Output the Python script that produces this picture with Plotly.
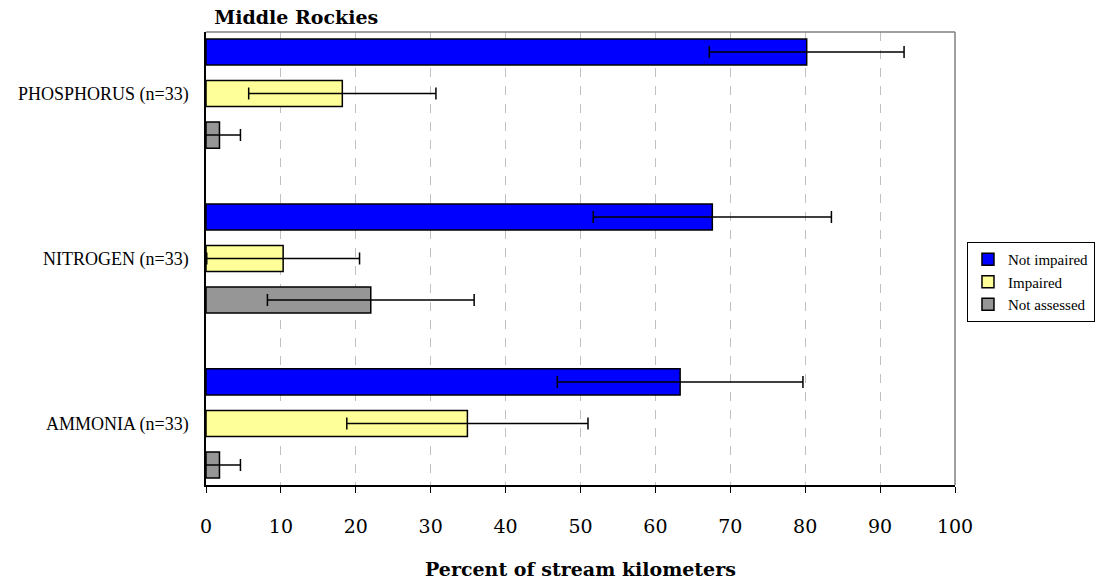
import plotly.graph_objects as go

# Nutrient condition of stream kilometers, Middle Rockies
categories = ["PHOSPHORUS (n=33)", "NITROGEN (n=33)", "AMMONIA (n=33)"]
series_names = ["Not impaired", "Impaired", "Not assessed"]

not_impaired = [80.2, 67.6, 63.3]
not_impaired_err = [13.0, 15.9, 16.4]

impaired = [18.2, 10.3, 34.9]
impaired_err = [12.5, 10.2, 16.1]

not_assessed = [1.8, 22.0, 1.8]
not_assessed_err = [2.8, 13.8, 2.8]

x_ticks = [0, 10, 20, 30, 40, 50, 60, 70, 80, 90, 100]

colors = ["#0000FF", "#FFFF99", "#969696"]
values = [not_impaired, impaired, not_assessed]
errors = [not_impaired_err, impaired_err, not_assessed_err]

serif = "Liberation Serif"
wide_serif = "DejaVu Serif"

fig = go.Figure()
for name, vals, errs, col in zip(series_names, values, errors, colors):
    fig.add_trace(go.Bar(
        y=categories,
        x=vals,
        name=name,
        orientation="h",
        marker=dict(color=col, line=dict(color="black", width=1.5)),
        error_x=dict(type="data", array=errs, symmetric=True,
                     color="black", thickness=1.5, width=6),
    ))

fig.update_layout(
    width=1112,
    height=581,
    margin=dict(l=206, r=157, t=32, b=96),
    paper_bgcolor="white",
    plot_bgcolor="white",
    barmode="group",
    bargap=0.245,
    bargroupgap=0.37,
    font=dict(family=serif, color="black"),
    title=dict(
        text="<b>Middle Rockies</b>",
        font=dict(family=wide_serif, size=19, color="black"),
        xref="paper", x=0.011, xanchor="left",
        yref="container", y=1 - 17 / 581, yanchor="middle",
    ),
    legend=dict(
        x=1.016, xanchor="left",
        y=0.448, yanchor="middle",
        bordercolor="black", borderwidth=1,
        bgcolor="white",
        font=dict(family=serif, size=15, color="black"),
        tracegroupgap=0,
        itemwidth=30,
    ),
    showlegend=True,
)

fig.update_xaxes(
    range=[0, 100],
    tickvals=x_ticks,
    ticktext=[str(t) for t in x_ticks],
    ticks="outside", ticklen=6, tickcolor="black", tickwidth=1,
    tickfont=dict(family=wide_serif, size=19, color="black"),
    ticklabelstandoff=17,
    showline=True, linecolor="black", linewidth=1.5,
    showgrid=True, gridcolor="#c0c0c0", griddash="dash", gridwidth=1,
    zeroline=False,
    automargin=False,
    title=dict(
        text="<b>Percent of stream kilometers</b>",
        font=dict(family=wide_serif, size=19, color="black"),
        standoff=27,
    ),
)

fig.update_yaxes(
    type="category",
    categoryorder="array",
    categoryarray=categories,
    range=[2.373, -0.373],
    ticks="",
    tickfont=dict(family=serif, size=18, color="black"),
    ticklabelstandoff=12,
    showline=True, linecolor="black", linewidth=1.5,
    showgrid=False,
    zeroline=False,
    automargin=False,
)

# gray frame along the top and right edges of the plotting area
fig.add_shape(type="line", xref="paper", yref="paper", x0=0, x1=1, y0=1, y1=1,
              line=dict(color="#808080", width=1.5))
fig.add_shape(type="line", xref="paper", yref="paper", x0=1, x1=1, y0=0, y1=1,
              line=dict(color="#808080", width=1.5))

fig.write_html("out.html")
